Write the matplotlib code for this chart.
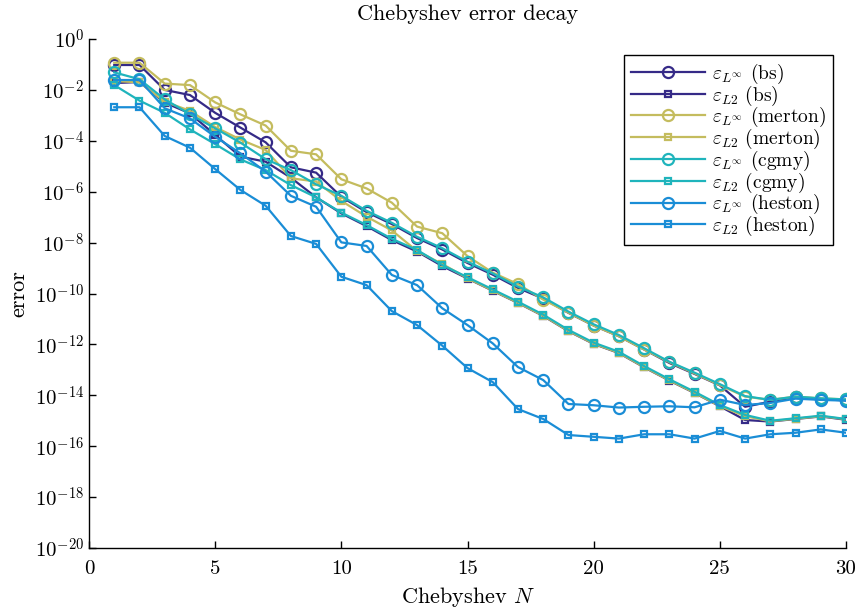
#Chebyshev error decay

import numpy as np
import matplotlib
matplotlib.use('Agg')
import matplotlib.pyplot as plt

plt.rcParams['font.family'] = 'serif'
plt.rcParams['font.serif'] = ['cmr10']
plt.rcParams['mathtext.fontset'] = 'cm'
plt.rcParams['axes.unicode_minus'] = False

#data (log10 of error), N = 1..30

N = np.arange(1, 31)

bs_inf = [-1.02, -1.02, -2.0, -2.2, -2.9, -3.48, -4.06, -5.04, -5.25, -6.2,
          -6.8, -7.27, -7.82, -8.27, -8.8, -9.26, -9.78, -10.2, -10.76, -11.26,
          -11.68, -12.2, -12.73, -13.16, -13.61, -14.45, -14.25, -14.08, -14.15, -14.2]
bs_l2 = [-1.73, -1.69, -2.5, -2.92, -3.77, -4.62, -4.82, -5.45, -6.22, -6.85,
         -7.35, -7.9, -8.35, -8.92, -9.41, -9.89, -10.37, -10.88, -11.48, -11.98,
         -12.34, -12.9, -13.42, -13.91, -14.43, -14.97, -15.03, -14.93, -14.83, -14.96]
merton_inf = [-0.93, -0.93, -1.75, -1.81, -2.49, -2.96, -3.4, -4.39, -4.53, -5.51,
              -5.87, -6.43, -7.37, -7.63, -8.53, -9.18, -9.63, -10.24, -10.75, -11.26,
              -11.68, -12.2, -12.7, -13.14, -13.6, -14.05, -14.18, -14.05, -14.12, -14.16]
merton_l2 = [-1.65, -1.7, -2.46, -2.82, -3.46, -3.95, -4.36, -5.47, -5.6, -6.36,
             -6.98, -7.52, -8.33, -8.84, -9.4, -9.88, -10.36, -10.87, -11.47, -11.97,
             -12.33, -12.89, -13.41, -13.9, -14.42, -14.82, -15.02, -14.92, -14.82, -14.94]
cgmy_inf = [-1.31, -1.58, -2.37, -2.95, -3.51, -4.07, -4.72, -5.15, -5.71, -6.16,
            -6.75, -7.22, -7.77, -8.22, -8.75, -9.21, -9.73, -10.15, -10.71, -11.21,
            -11.63, -12.15, -12.68, -13.11, -13.56, -14.03, -14.18, -14.05, -14.12, -14.16]
cgmy_l2 = [-1.81, -2.42, -2.9, -3.55, -4.13, -4.73, -5.15, -5.74, -6.22, -6.82,
           -7.31, -7.85, -8.29, -8.88, -9.36, -9.84, -10.32, -10.83, -11.43, -11.93,
           -12.29, -12.85, -13.37, -13.86, -14.38, -14.77, -15.0, -14.9, -14.8, -14.93]
heston_inf = [-1.61, -1.61, -2.72, -3.12, -3.84, -4.49, -5.21, -6.16, -6.59, -7.99,
              -8.13, -9.27, -9.67, -10.58, -11.24, -11.96, -12.89, -13.4, -14.34, -14.39,
              -14.48, -14.45, -14.43, -14.47, -14.17, -14.38, -14.3, -14.13, -14.18, -14.21]
heston_l2 = [-2.68, -2.68, -3.81, -4.27, -5.11, -5.93, -6.55, -7.74, -8.05, -9.34,
             -9.67, -10.69, -11.24, -12.05, -12.93, -13.48, -14.54, -14.93, -15.56, -15.63,
             -15.7, -15.53, -15.53, -15.7, -15.4, -15.7, -15.53, -15.47, -15.34, -15.47]

models = ['bs', 'merton', 'cgmy', 'heston']
colors = ['#352a87', '#c4bc5e', '#1fb4bc', '#1a8dd6']
series = [(bs_inf, bs_l2), (merton_inf, merton_l2), (cgmy_inf, cgmy_l2), (heston_inf, heston_l2)]

yticks = np.arange(-20, 1, 2)
xticks = [0, 5, 10, 15, 20, 25, 30]

#plot

fig = plt.figure(figsize=(8.61, 6.1), dpi=100)
ax = fig.add_axes([0.1034, 0.1016, 0.8792, 0.8344])

for name, c, (e_inf, e_l2) in zip(models, colors, series):
    ax.semilogy(N, 10.0 ** np.array(e_inf), '-o', color=c, lw=1.6, ms=8,
                mfc='none', mew=1.6, label=r'$\varepsilon_{L^\infty}$ (%s)' % name)
    ax.semilogy(N, 10.0 ** np.array(e_l2), '-s', color=c, lw=1.6, ms=4.5,
                mfc='none', mew=1.6, label=r'$\varepsilon_{L2}$ (%s)' % name)

ax.set_xlim(0, 30)
ax.set_ylim(1e-20, 1)
ax.set_xticks(xticks)
ax.set_xticklabels([str(t) for t in xticks])
ax.set_yticks(10.0 ** yticks)
ax.set_yticklabels([r'$10^{%d}$' % t for t in yticks])
ax.minorticks_off()
ax.tick_params(direction='in', labelsize=15, length=5, width=1)
ax.tick_params(axis='x', pad=9)
ax.spines['top'].set_visible(False)
ax.spines['right'].set_visible(False)
for s in ['left', 'bottom']:
    ax.spines[s].set_linewidth(1)

ax.set_title('Chebyshev error decay', fontsize=16, pad=14)
ax.set_xlabel(r'Chebyshev $N$', fontsize=16, labelpad=5)
ax.set_ylabel('error', fontsize=16, labelpad=5)

leg = ax.legend(loc='upper right', bbox_to_anchor=(0.983, 0.969), borderaxespad=0,
                fontsize=14, fancybox=False, framealpha=1, edgecolor='black',
                handlelength=3.8, handletextpad=0.4, borderpad=0.35, labelspacing=-0.12)
leg.get_frame().set_linewidth(1)

plt.savefig('out.png', dpi=100)
